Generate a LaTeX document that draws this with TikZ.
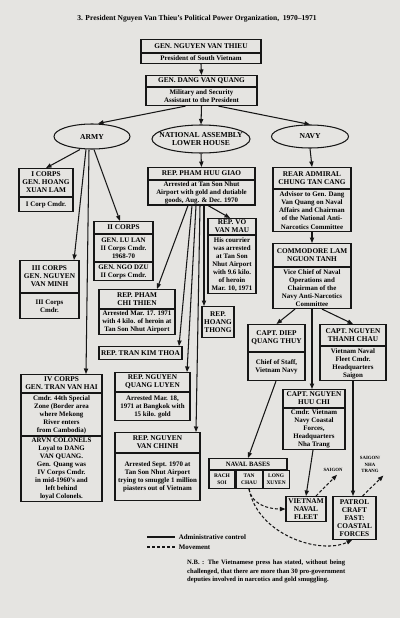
\documentclass[tikz,border=0pt]{standalone}
\usepackage{fontspec}
\setmainfont{Liberation Serif}
\usetikzlibrary{positioning,arrows.meta,shapes.geometric}
\definecolor{paper}{RGB}{229,228,225}
\definecolor{ink}{RGB}{22,22,22}

\tikzset{
  arr/.style={draw=ink, line width=1.05pt, -{Triangle[length=5.5pt,width=4.2pt]}},
  move/.style={arr, dash pattern=on 3pt off 2pt},
  head/.style={draw=ink, line width=1.05pt, anchor=north, align=center, inner sep=1pt,
    font=\bfseries\fontsize{7.3}{8}\selectfont},
  body/.style={draw=ink, line width=1.05pt, anchor=north, align=center, inner sep=1pt,
    font=\bfseries\fontsize{6.9}{8.05}\selectfont},
  cell/.style={draw=ink, line width=1.05pt, anchor=north, align=center, inner sep=0.5pt,
    minimum width=26, minimum height=18, font=\bfseries\fontsize{5.4}{7}\selectfont},
  oval/.style={draw=ink, line width=1.05pt, ellipse, inner sep=0pt},
  ovaltext/.style={align=center, font=\bfseries\fontsize{7.6}{8.6}\selectfont},
  small/.style={align=center, inner sep=1pt, font=\bfseries\fontsize{4.8}{6.3}\selectfont}
}

\begin{document}
\begin{tikzpicture}[x=1pt,y=-1pt]
  \fill[paper] (0,0) rectangle (400,618);
  \useasboundingbox (0,0) rectangle (400,618);

  % Title
  \node[font=\bfseries\fontsize{7.5}{9}\selectfont] (title) at (197,19)
    {3. President Nguyen Van Thieu's Political Power Organization,\ \ 1970--1971};

  % President and assistant
  \node[head, minimum width=120, minimum height=13] (thieu) at (201,39) {GEN. NGUYEN VAN THIEU};
  \node[body, below=0pt of thieu, minimum width=120, minimum height=10] (thieub) {President of South Vietnam};
  \node[head, minimum width=111, minimum height=11] (quang) at (201.5,75) {GEN. DANG VAN QUANG};
  \node[body, below=0pt of quang, minimum width=111, minimum height=18] (quangb) {Military and Security\\Assistant to the President};

  % Three branches
  \node[oval, minimum width=76, minimum height=25, label={[ovaltext]center:ARMY}] (army) at (92,136.5) {};
  \node[oval, minimum width=98, minimum height=28, label={[ovaltext]center:{NATIONAL ASSEMBLY\\LOWER HOUSE}}] (nat) at (201,139) {};
  \node[oval, minimum width=77, minimum height=23, label={[ovaltext]center:NAVY}] (navy) at (310,136.5) {};

  % Army
  \node[head, minimum width=54, minimum height=28] (icorps) at (46,168) {I CORPS\\GEN. HOANG\\XUAN LAM};
  \node[body, below=0pt of icorps, minimum width=54, minimum height=14] (icorpsb) {I Corp Cmdr.};
  \node[head, minimum width=59, minimum height=12] (iicorps) at (123.5,221) {II CORPS};
  \node[body, below=0pt of iicorps, minimum width=59, minimum height=27] (iicorpsb) {GEN. LU LAN\\II Corps Cmdr.\\1968-70};
  \node[body, below=0pt of iicorpsb, minimum width=59, minimum height=18] (iicorpsc) {GEN. NGO DZU\\II Corps Cmdr.};
  \node[head, minimum width=59, minimum height=32] (iiicorps) at (49.5,260) {III CORPS\\GEN. NGUYEN\\VAN MINH};
  \node[body, below=0pt of iiicorps, minimum width=59, minimum height=25] (iiicorpsb) {III Corps\\Cmdr.};
  \node[head, minimum width=81, minimum height=18] (ivcorps) at (61.5,374) {IV CORPS\\GEN. TRAN VAN HAI};
  \node[body, below=0pt of ivcorps, minimum width=81, minimum height=42] (ivcorpsb)
    {Cmdr. 44th Special\\Zone (Border area\\where Mekong\\River enters\\from Cambodia)};
  \node[body, below=0pt of ivcorpsb, minimum width=81, minimum height=65] (ivcorpsc)
    {ARVN COLONELS\\Loyal to DANG\\VAN QUANG.\\Gen. Quang was\\IV Corps Cmdr.\\in mid-1960's and\\left behind\\loyal Colonels.};

  % Lower House
  \node[head, minimum width=107, minimum height=12] (giao) at (201.5,167) {REP. PHAM HUU GIAO};
  \node[body, below=0pt of giao, minimum width=107, minimum height=24] (giaob)
    {Arrested at Tan Son Nhut\\Airport with gold and dutiable\\goods, Aug. \& Dec. 1970};
  \node[head, minimum width=48, minimum height=16] (mau) at (232,218) {REP. VO\\VAN MAU};
  \node[body, below=0pt of mau, minimum width=48, minimum height=58] (maub)
    {His courrier\\was arrested\\at Tan Son\\Nhut Airport\\with 9.6 kilo.\\of heroin\\Mar. 10, 1971};
  \node[head, minimum width=76, minimum height=19] (thien) at (137,289) {REP. PHAM\\CHI THIEN};
  \node[body, below=0pt of thien, minimum width=76, minimum height=25] (thienb)
    {Arrested Mar. 17. 1971\\with 4 kilo. of heroin at\\Tan Son Nhut Airport};
  \node[head, minimum width=83, minimum height=13] (thoa) at (140.5,346) {REP. TRAN KIM THOA};
  \node[head, minimum width=32, minimum height=31] (hoang) at (218,306) {REP.\\HOANG\\THONG};
  \node[head, minimum width=75, minimum height=19] (luyen) at (152.5,372) {REP. NGUYEN\\QUANG LUYEN};
  \node[body, below=0pt of luyen, minimum width=75, minimum height=28] (luyenb)
    {Arrested Mar. 18,\\1971 at Bangkok with\\15 kilo. gold};
  \node[head, minimum width=85, minimum height=20] (chinh) at (157.5,432) {REP. NGUYEN\\VAN CHINH};
  \node[body, below=0pt of chinh, minimum width=85, minimum height=47] (chinhb)
    {Arrested Sept. 1970 at\\Tan Son Nhut Airport\\trying to smuggle 1 million\\piasters out of Vietnam};

  % Navy
  \node[head, minimum width=78, minimum height=21] (cang) at (312,167) {REAR ADMIRAL\\CHUNG TAN CANG};
  \node[body, below=0pt of cang, minimum width=78, minimum height=42] (cangb)
    {Advisor to Gen. Dang\\Van Quang on Naval\\Affairs and Chairman\\of the National Anti-\\Narcotics Committee};
  \node[head, minimum width=78, minimum height=23] (tanh) at (312,243) {COMMODORE LAM\\NGUON TANH};
  \node[body, below=0pt of tanh, minimum width=78, minimum height=41] (tanhb)
    {Vice Chief of Naval\\Operations and\\Chairman of the\\Navy Anti-Narcotics\\Committee};
  \node[head, minimum width=57, minimum height=27] (thuy) at (276.5,324) {CAPT. DIEP\\QUANG THUY};
  \node[body, below=0pt of thuy, minimum width=57, minimum height=28] (thuyb) {Chief of Staff,\\Vietnam Navy};
  \node[head, minimum width=66, minimum height=21] (chau) at (353,324) {CAPT. NGUYEN\\THANH CHAU};
  \node[body, below=0pt of chau, minimum width=66, minimum height=34] (chaub)
    {Vietnam Naval\\Fleet Cmdr.\\Headquarters\\Saigon};
  \node[head, minimum width=62, minimum height=18] (chi) at (314,389) {CAPT. NGUYEN\\HUU CHI};
  \node[body, below=0pt of chi, minimum width=62, minimum height=41] (chib)
    {Cmdr. Vietnam\\Navy Coastal\\Forces,\\Headquarters\\Nha Trang};

  % Naval bases
  \node[head, minimum width=78, minimum height=11, font=\bfseries\fontsize{6.6}{7.5}\selectfont] (bases) at (248,458) {NAVAL BASES};
  \node[cell, anchor=north west] (rach) at (bases.south west) {RACH\\SOI};
  \node[cell, anchor=west, right=0pt of rach] (tan) {TAN\\CHAU};
  \node[cell, anchor=west, right=0pt of tan] (long) {LONG\\XUYEN};
  \node[head, minimum width=40, minimum height=25] (fleet) at (306,496) {VIETNAM\\NAVAL\\FLEET};
  \node[head, minimum width=43, minimum height=43] (patrol) at (354.5,496) {PATROL\\CRAFT\\FAST:\\COASTAL\\FORCES};
  \node[small] (sgn) at (333,470) {SAIGON};
  \node[small] (ntr) at (370,464.5) {SAIGON/\\NHA\\TRANG};

  % Administrative control
  \draw[arr] (thieub.south) -- (quang.north);
  \draw[arr] ([xshift=-16pt]quangb.south) -- ([xshift=6pt]army.north);
  \draw[arr] (quangb.south) -- (nat.north);
  \draw[arr] ([xshift=17pt]quangb.south) -- (navy.north);
  \draw[arr] ([xshift=-12pt]army.south) -- (icorps.north);
  \draw[arr] ([xshift=-6pt]army.south) -- ([xshift=24.5pt]iiicorps.north);
  \draw[arr] ([xshift=-3pt]army.south) -- ([xshift=24.5pt]ivcorps.north);
  \draw[arr] ([xshift=2pt]army.south) -- ([xshift=-3.5pt]iicorps.north);
  \draw[arr] (nat.south) -- (giao.north);
  \draw[arr] ([xshift=6.5pt]giaob.south) -- ([xshift=-2pt]mau.north);
  \draw[arr] ([xshift=-13.5pt]giaob.south) -- ([xshift=20pt]thien.north);
  \draw[arr] ([xshift=-9.5pt]giaob.south) -- ([xshift=38.5pt]thoa.north);
  \draw[arr] ([xshift=-5.5pt]giaob.south) -- ([xshift=34.5pt]luyen.north);
  \draw[arr] ([xshift=-1.5pt]giaob.south) -- ([xshift=38.5pt]chinh.north);
  \draw[arr] ([xshift=2.5pt]giaob.south) -- ([xshift=-14pt]hoang.north);
  \draw[arr] (navy.south) -- (cang.north);
  \draw[arr] (cangb.south) -- (tanh.north);
  \draw[arr] ([xshift=-17pt]tanhb.south) -- (thuy.north);
  \draw[arr] ([xshift=10pt]tanhb.south) -- (chau.north);
  \draw[arr] (tanhb.south) -- (tanhb.south |- chi.north);
  \draw[arr] ([xshift=-0.5pt]thuyb.south) -- (bases.north);
  \draw[arr] ([xshift=-1pt]chib.south) -- (fleet.north);
  \draw[arr] (chaub.south) -- (chaub.south |- patrol.north);

  % Movement
  \draw[move] (tan.south) to[out=-80, in=180] (fleet.west);
  \draw[move] (tan.south) .. controls (258,535) and (320,555) .. ([xshift=-2.5pt]patrol.south);
  \draw[move] ([xshift=10pt]fleet.north) -- ([xshift=4pt,yshift=-2pt]sgn.south);
  \draw[move] ([xshift=8pt]patrol.north) -- ([xshift=2pt,yshift=-2pt]ntr.south east);

  % Legend
  \coordinate (lega) at (147,537);
  \coordinate (legb) at (175,537);
  \coordinate (legc) at (147,547);
  \coordinate (legd) at (175,547);
  \draw[draw=ink, line width=1.05pt] (lega) -- (legb)
    node[right=0pt, font=\bfseries\fontsize{6.9}{8}\selectfont] (legtext) {Administrative control};
  \draw[draw=ink, line width=1.05pt, dash pattern=on 3pt off 2pt] (legc) -- (legd)
    node[right=0pt, font=\bfseries\fontsize{6.9}{8}\selectfont] (movtext) {Movement};

  % Note
  \node[anchor=north west, align=left, inner sep=0pt, font=\bfseries\fontsize{6.6}{8.3}\selectfont] (nb) at (187,560)
    {\makebox[158pt][s]{N.B. : The Vietnamese press has stated, without being}\\
     \makebox[158pt][s]{challenged, that there are more than 30 pro-government}\\
     deputies involved in narcotics and gold smuggling.};
\end{tikzpicture}
\end{document}
